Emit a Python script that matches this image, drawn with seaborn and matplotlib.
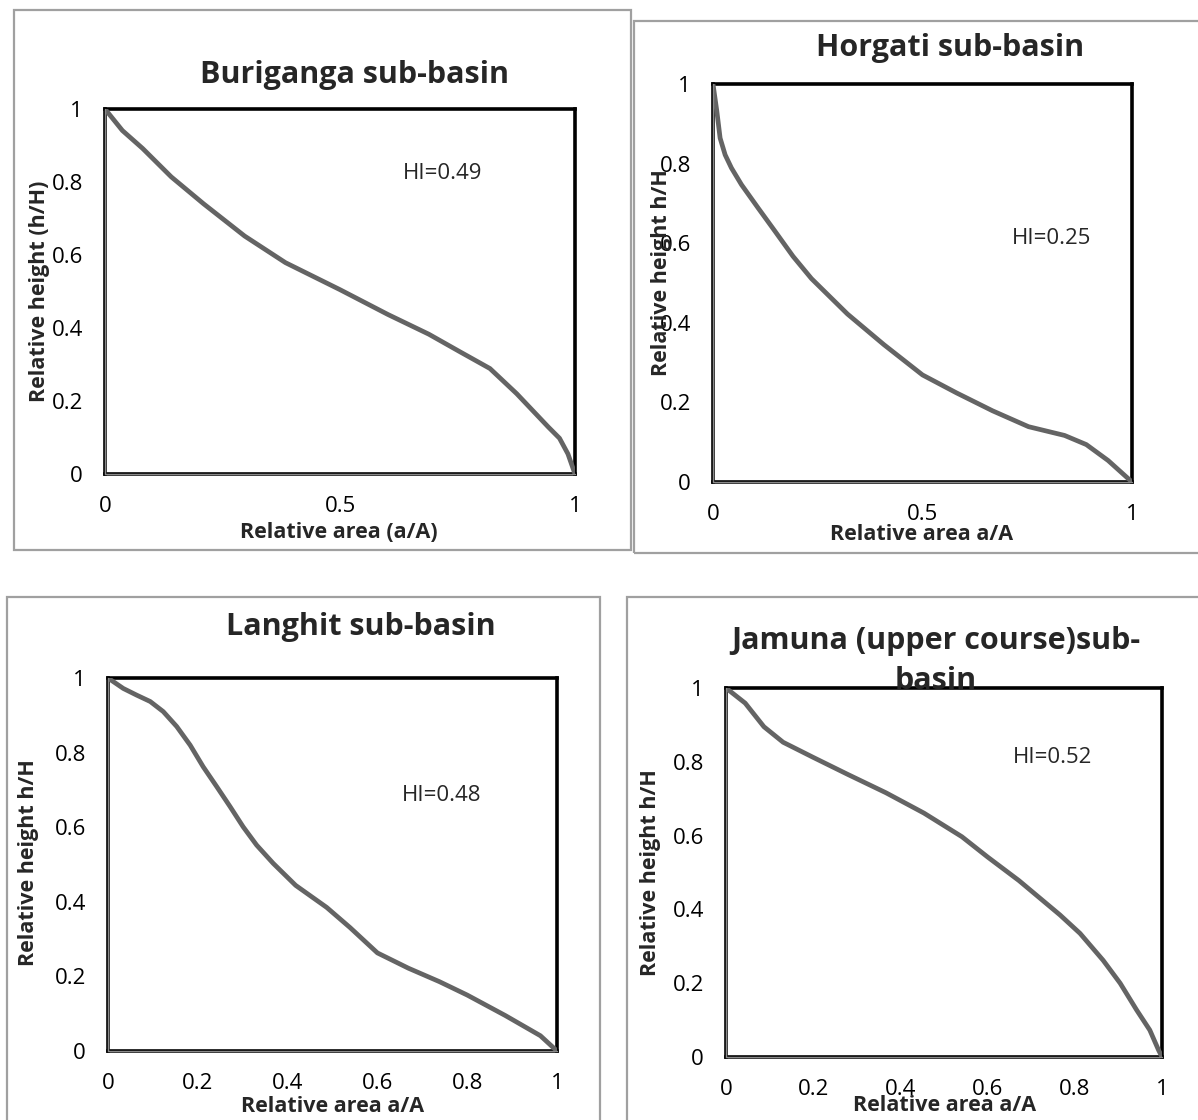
import numpy as np
import pandas as pd
import matplotlib
matplotlib.use("Agg")
import matplotlib.pyplot as plt
from matplotlib.patches import Rectangle
import seaborn as sns

# hypsometric curves, values
buriganga_x = [0, 0.037, 0.08, 0.141, 0.210, 0.297, 0.384, 0.5, 0.602, 0.689, 0.755, 0.819, 0.876, 0.943, 0.967, 0.985, 1]
buriganga_y = [1, 0.941, 0.892, 0.814, 0.740, 0.652, 0.579, 0.505, 0.437, 0.383, 0.335, 0.289, 0.220, 0.129, 0.098, 0.055, 0]

horgati_x = [0, 0.009, 0.017, 0.029, 0.044, 0.068, 0.108, 0.148, 0.191, 0.235, 0.321, 0.408, 0.5, 0.581, 0.667, 0.753, 0.839, 0.891, 0.943, 1]
horgati_y = [1, 0.933, 0.864, 0.822, 0.789, 0.747, 0.688, 0.630, 0.567, 0.511, 0.422, 0.345, 0.269, 0.224, 0.179, 0.139, 0.117, 0.094, 0.054, 0]

langhit_x = [0, 0.034, 0.064, 0.094, 0.123, 0.153, 0.183, 0.212, 0.242, 0.272, 0.301, 0.331, 0.368, 0.418, 0.487, 0.539, 0.6, 0.669, 0.738, 0.8, 0.885, 0.963, 1]
langhit_y = [1, 0.972, 0.954, 0.937, 0.910, 0.870, 0.820, 0.762, 0.709, 0.655, 0.601, 0.552, 0.503, 0.444, 0.385, 0.331, 0.263, 0.222, 0.186, 0.150, 0.095, 0.041, 0]

jamuna_x = [0, 0.044, 0.087, 0.131, 0.2, 0.279, 0.367, 0.454, 0.541, 0.6, 0.672, 0.766, 0.812, 0.865, 0.904, 0.942, 0.972, 0.992, 1]
jamuna_y = [1, 0.959, 0.895, 0.853, 0.812, 0.766, 0.716, 0.661, 0.597, 0.542, 0.478, 0.385, 0.335, 0.262, 0.200, 0.127, 0.073, 0.019, 0]

titles = ["Buriganga sub-basin", "Horgati sub-basin", "Langhit sub-basin",
          "Jamuna (upper course)sub-\nbasin"]
hi_values = [0.49, 0.25, 0.48, 0.52]
y_labels = ["Relative height (h/H)", "Relative height h/H", "Relative height h/H", "Relative height h/H"]
x_labels = ["Relative area (a/A)", "Relative area a/A", "Relative area a/A", "Relative area a/A"]
x_ticks = [[0, 0.5, 1], [0, 0.5, 1], [0, 0.2, 0.4, 0.6, 0.8, 1], [0, 0.2, 0.4, 0.6, 0.8, 1]]
y_ticks = [0, 0.2, 0.4, 0.6, 0.8, 1]

curves = [(buriganga_x, buriganga_y), (horgati_x, horgati_y),
          (langhit_x, langhit_y), (jamuna_x, jamuna_y)]

sns.set_style("white")
plt.rcParams["font.family"] = ["Open Sans", "DejaVu Sans"]

W, H = 1198, 1120
fig = plt.figure(figsize=(W / 100, H / 100), dpi=100)

# layout in pixels: axes box (left, right, top, bottom), outer frame, title, HI text
axes_px = [(105, 575, 109, 474), (713, 1132, 84, 482), (108, 557, 678, 1051), (726, 1162, 688, 1057)]
frames_px = [(14, 631, 10, 550), (634, 1210, 21, 553), (7, 600, 597, 1130), (627, 1210, 597, 1130)]
title_px = [(354, 75), (950, 48), (361, 627), (936, 661)]
hi_pos = [(0.719, 0.822), (0.807, 0.611), (0.742, 0.684), (0.75, 0.813)]
ylab_pos = [(-0.14, 0.5), (-0.124, 0.525), (-0.176, 0.504), (-0.174, 0.501)]
xlab_pos = [(0.498, -0.16), (0.498, -0.131), (0.501, -0.150), (0.502, -0.131)]

for i in range(4):
    fl, fr, ft, fb = frames_px[i]
    fig.add_artist(Rectangle((fl / W, 1 - fb / H), (fr - fl) / W, (fb - ft) / H,
                             transform=fig.transFigure, fill=False,
                             edgecolor="#a0a0a0", lw=1.6))

    l, r, t, b = axes_px[i]
    ax = fig.add_axes([l / W, 1 - b / H, (r - l) / W, (b - t) / H])
    df = pd.DataFrame({"a": curves[i][0], "h": curves[i][1]})
    sns.lineplot(data=df, x="a", y="h", ax=ax, color="#646464", lw=3.4,
                 sort=False, estimator=None, zorder=3)
    ax.lines[-1].set_solid_joinstyle("round")
    ax.set_xlim(0, 1)
    ax.set_ylim(0, 1)
    ax.set_xticks(x_ticks[i])
    ax.set_yticks(y_ticks)
    ax.set_xticklabels([f"{v:g}" for v in x_ticks[i]])
    ax.set_yticklabels([f"{v:g}" for v in y_ticks])
    ax.tick_params(direction="out", length=5, width=1.2, color="#8a8a8a",
                   labelsize=16, pad=11, labelcolor="black")
    for side in ["top", "right", "left", "bottom"]:
        ax.spines[side].set_color("black")
        ax.spines[side].set_linewidth(2.6)
        ax.spines[side].set_visible(True)
    # gray axis lines sitting on the black border
    ax.axvline(0, color="#8a8a8a", lw=1.0, zorder=4, clip_on=False)
    ax.axhline(0, color="#8a8a8a", lw=1.0, zorder=4, clip_on=False)

    ax.set_xlabel(x_labels[i], fontsize=15.5, fontweight="bold")
    ax.set_ylabel(y_labels[i], fontsize=15.5, fontweight="bold")
    ax.xaxis.set_label_coords(*xlab_pos[i])
    ax.yaxis.set_label_coords(*ylab_pos[i])
    ax.xaxis.label.set_va("center")
    ax.yaxis.label.set_va("center")

    ax.text(hi_pos[i][0], hi_pos[i][1], f"HI={hi_values[i]:.2f}",
            fontsize=16, ha="center", va="center", transform=ax.transData)

    tx, ty = title_px[i]
    fig.text(tx / W, 1 - ty / H, titles[i], fontsize=22, fontweight="bold",
             ha="center", va="center", linespacing=1.45)

fig.savefig("out.png", dpi=100)
